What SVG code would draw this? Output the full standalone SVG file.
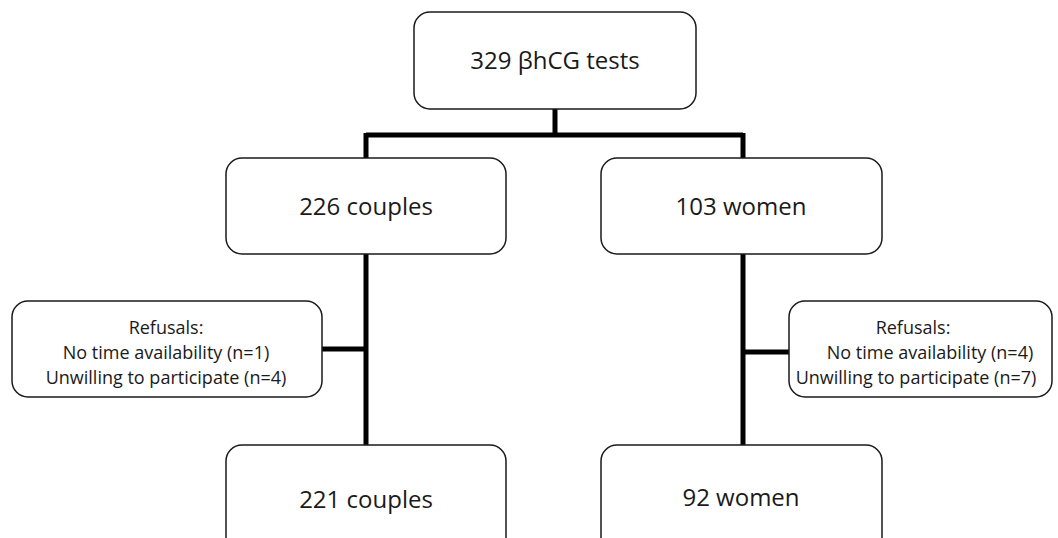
<svg xmlns="http://www.w3.org/2000/svg" width="1058" height="538" viewBox="0 0 1058 538">
<style>
.box{fill:#fff;stroke:#1a1a1a;stroke-width:1.5}
.big{font-family:"Open Sans","Noto Sans",sans-serif;font-size:24px;fill:#1a1a1a;text-anchor:middle}
.sm{font-family:"Open Sans","Noto Sans",sans-serif;font-size:18px;fill:#1a1a1a;text-anchor:middle}
.con{fill:none;stroke:#000;stroke-width:5}
</style>
<rect width="1058" height="538" fill="#fff"/>
<g id="connectors">
<path class="con" d="M555 109 V135 M366 135 H743 M366 133 V445 M743 133 V445 M322 349 H366 M743 352 H789"/>
</g>
<g id="n-tests"><rect class="box" x="414" y="12" width="282" height="97" rx="16"/><text class="big" x="555" y="69">329 βhCG tests</text></g>
<g id="n-couples"><rect class="box" x="226" y="158" width="280" height="96" rx="16"/><text class="big" x="366" y="215">226 couples</text></g>
<g id="n-women"><rect class="box" x="601" y="158" width="281" height="96" rx="16"/><text class="big" x="741" y="215">103 women</text></g>
<g id="n-ref-left"><rect class="box" x="12" y="301" width="310" height="96" rx="16"/>
<text class="sm"><tspan x="166" y="334">Refusals:</tspan><tspan x="166" y="359">No time availability (n=1)</tspan><tspan x="166" y="384">Unwilling to participate (n=4)</tspan></text></g>
<g id="n-ref-right"><rect class="box" x="789" y="301" width="263" height="96" rx="16"/>
<text class="sm"><tspan x="913" y="334">Refusals:</tspan><tspan x="930" y="359">No time availability (n=4)</tspan><tspan x="916" y="384">Unwilling to participate (n=7)</tspan></text></g>
<g id="n-couples2"><rect class="box" x="226" y="445" width="280" height="110" rx="16"/><text class="big" x="366" y="508">221 couples</text></g>
<g id="n-women2"><rect class="box" x="601" y="445" width="281" height="110" rx="16"/><text class="big" x="741" y="506">92 women</text></g>
</svg>
